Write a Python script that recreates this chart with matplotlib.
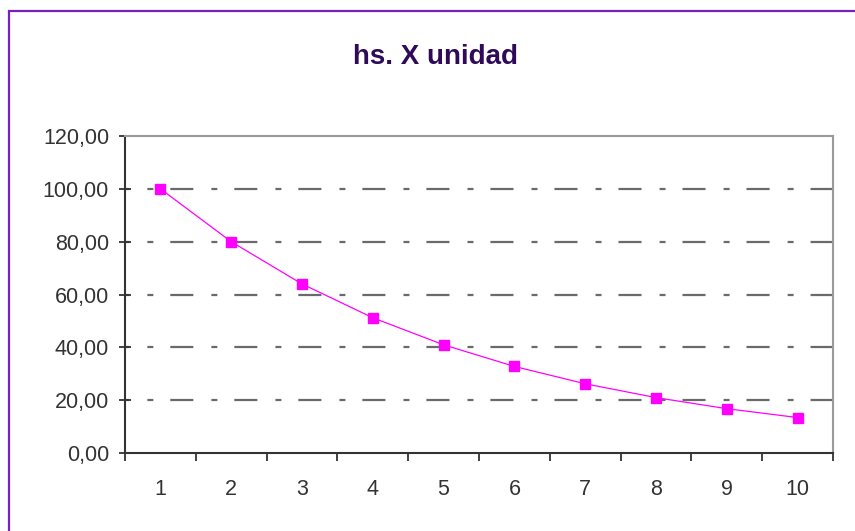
import matplotlib
matplotlib.use("Agg")
import matplotlib.pyplot as plt
from matplotlib.patches import Rectangle
from matplotlib.ticker import FixedLocator, FuncFormatter

# === Datos ===
unidades = [1, 2, 3, 4, 5, 6, 7, 8, 9, 10]
horas = [100.00, 80.00, 64.00, 51.20, 40.96, 32.77, 26.21, 20.97, 16.78, 13.42]
y_ticks = [0, 20, 40, 60, 80, 100, 120]

plt.rcParams['font.family'] = ['Liberation Sans', 'DejaVu Sans']
plt.rcParams['lines.scale_dashes'] = False

fig = plt.figure(figsize=(8.55, 5.31), dpi=100)
ax = fig.add_axes([125 / 855, 1 - 453 / 531, 708 / 855, 317 / 531])

# borde exterior (violeta)
fig.patches.append(Rectangle((8.5 / 855, -0.1), 1.2, 1 - 11 / 531 + 0.1,
                             transform=fig.transFigure, fill=False,
                             edgecolor='#7a1fc0', linewidth=1.6, zorder=0))

# grilla punto-raya
for y in y_ticks[1:-1]:
    ax.axhline(y, color='#6a6a6a', linewidth=1.6,
               linestyle=(30, (4.3, 12.2, 16.6, 13.0)), zorder=1)

ax.plot(unidades, horas, color='#ff00ff', linewidth=0.9, marker='s',
        markersize=6.5, markerfacecolor='#ff00ff', markeredgecolor='#ff00ff',
        zorder=3)

ax.set_xlim(0.5, 10.5)
ax.set_ylim(0, 120)

ax.yaxis.set_major_locator(FixedLocator(y_ticks))
ax.yaxis.set_major_formatter(FuncFormatter(lambda v, p: f"{v:.2f}".replace('.', ',')))
ax.xaxis.set_major_locator(FixedLocator(unidades))
ax.xaxis.set_minor_locator(FixedLocator([u - 0.5 for u in unidades] + [10.5]))

ax.tick_params(axis='y', direction='inout', length=9, width=1.3, color='#333333',
               labelsize=15.5, labelcolor='#333333', pad=7)
ax.tick_params(axis='x', which='major', length=0, labelsize=15.5,
               labelcolor='#333333', pad=19)
ax.tick_params(axis='x', which='minor', direction='out', length=6, width=1.3,
               color='#333333')

for s in ['left', 'bottom']:
    ax.spines[s].set_color('#333333')
    ax.spines[s].set_linewidth(1.5)
for s in ['top', 'right']:
    ax.spines[s].set_color('#9a9a9a')
    ax.spines[s].set_linewidth(1.5)

fig.text(435 / 855, 1 - 57 / 531, "hs. X unidad", ha='center', va='center',
         fontsize=20, fontweight='bold', color='#2e0a58')

fig.savefig("out.png", dpi=100)
